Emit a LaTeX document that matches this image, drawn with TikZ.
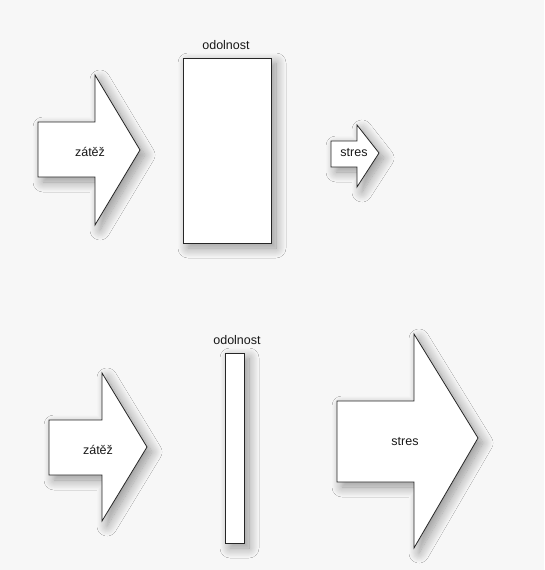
\documentclass[tikz,border=0pt]{standalone}
\usepackage{fontspec}
\setmainfont{Liberation Sans}
\usetikzlibrary{shadows.blur}
\begin{document}
\begin{tikzpicture}[x=1pt,y=-1pt,
  figshape/.style={draw=black!85,line width=0.8pt,fill=white,line join=miter,
    blur shadow={shadow xshift=5pt,shadow yshift=-5pt,shadow blur steps=14,shadow blur radius=10pt,shadow opacity=40}},
  lbl/.style={font=\fontsize{12.5}{14}\selectfont,text=black!90}]
\useasboundingbox[fill=black!3] (0,0) rectangle (544,570);
% top row
\path[figshape] (38,122) -- (95,122) -- (95,75) -- (140,150) -- (95,225) -- (95,177) -- (38,177) -- cycle;
\node[lbl] (z1) at (90,152) {zátěž};
\path[figshape] (183,58) rectangle (271,243);
\node[lbl] (o1) at (226,45) {odolnost};
\path[figshape] (331,141) -- (357,141) -- (357,125) -- (379,153) -- (357,187) -- (357,167) -- (331,167) -- cycle;
\node[lbl] (s1) at (354,153) {stres};
% bottom row
\path[figshape] (49,420) -- (102,420) -- (102,373) -- (147,447) -- (102,521) -- (102,475) -- (49,475) -- cycle;
\node[lbl] (z2) at (98,450) {zátěž};
\path[figshape] (225,353) rectangle (244,543);
\node[lbl] (o2) at (237,340) {odolnost};
\path[figshape] (337,401) -- (414,401) -- (414,334) -- (478,438) -- (414,548) -- (414,482) -- (337,482) -- cycle;
\node[lbl] (s2) at (405,442) {stres};
\end{tikzpicture}
\end{document}
